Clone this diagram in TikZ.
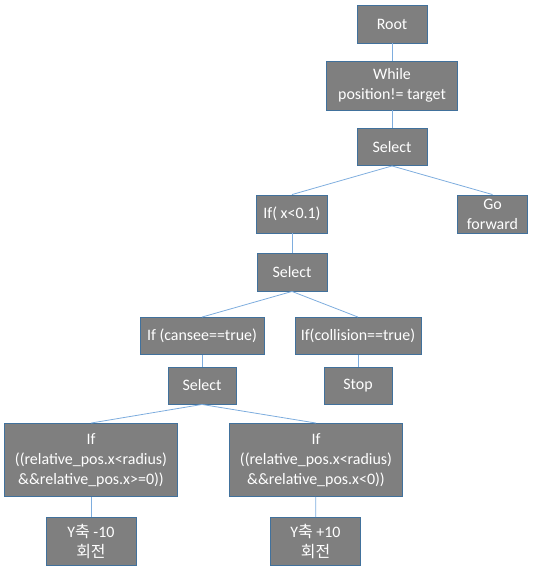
\documentclass[tikz,border=0pt]{standalone}
\usepackage{fontspec}
\setmainfont{Carlito}
\newfontfamily\kr{Noto Sans CJK KR}
\usepackage{tikz}
\usetikzlibrary{arrows,shapes}
\definecolor{boxfill}{HTML}{7F7F7F}
\definecolor{boxline}{HTML}{41719C}
\definecolor{edgeline}{HTML}{7EADDE}
\newcommand{\ynote}[1]{Y{\kr 축} #1\\{\kr 회전}}

\begin{document}
\begin{tikzpicture}[>=latex]
      \tikzstyle{every node}=[font=\fontsize{16}{20}\selectfont]
      \tikzstyle{bt}=[draw=boxline, line width=.9bp, fill=boxfill, text=white, align=center, inner sep=0pt]
      \tikzstyle{lk}=[draw=edgeline, line width=.8bp]
      \useasboundingbox (0bp,0bp) rectangle (541bp,-580bp);
      %%
  \node (root) at (392bp,-24bp) [bt, minimum width=70bp, minimum height=38bp] {Root};
  \node (loop) at (392bp,-85.5bp) [bt, minimum width=131bp, minimum height=49bp] {While\\position!= target};
  \node (sel1) at (392bp,-147bp) [bt, minimum width=70bp, minimum height=37bp] {Select};
  \node (ifx) at (292bp,-214bp) [bt, minimum width=71bp, minimum height=38bp] {If( x<0.1)};
  \node (fwd) at (492.5bp,-214bp) [bt, minimum width=70bp, minimum height=38bp] {Go\\forward};
  \node (sel2) at (292bp,-272bp) [bt, minimum width=70bp, minimum height=38bp] {Select};
  \node (see) at (202bp,-336bp) [bt, minimum width=124bp, minimum height=37bp] {If (cansee==true)};
  \node (col) at (358bp,-336bp) [bt, minimum width=126bp, minimum height=37bp] {If(collision==true)};
  \node (sel3) at (202bp,-385.5bp) [bt, minimum width=68bp, minimum height=37bp] {Select};
  \node (stop) at (358bp,-385.5bp) [bt, minimum width=68bp, minimum height=37bp] {Stop};
  \node (ifl) at (91bp,-460bp) [bt, minimum width=173bp, minimum height=73bp] {If\\((relative\_pos.x<radius)\\\&\&relative\_pos.x>=0))};
  \node (ifr) at (316bp,-460bp) [bt, minimum width=173bp, minimum height=73bp] {If\\((relative\_pos.x<radius)\\\&\&relative\_pos.x<0))};
  \node (rotl) at (91bp,-541.5bp) [bt, minimum width=90bp, minimum height=48bp] {\ynote{-10}};
  \node (rotr) at (315.5bp,-541.5bp) [bt, minimum width=90bp, minimum height=48bp] {\ynote{+10}};
  \draw [lk] (root) -- (loop);
  \draw [lk] (loop) -- (sel1);
  \draw [lk] (sel1.south) -- (ifx.north);
  \draw [lk] (sel1.south) -- (fwd.north);
  \draw [lk] (ifx) -- (sel2);
  \draw [lk] (sel2.south) -- (see.north);
  \draw [lk] (sel2.south) -- (col.north);
  \draw [lk] (see) -- (sel3);
  \draw [lk] (col) -- (stop);
  \draw [lk] (sel3.south) -- (ifl.north);
  \draw [lk] (sel3.south) -- (ifr.north);
  \draw [lk] (ifl) -- (rotl);
  \draw [lk] (ifr) -- (rotr);
%
\end{tikzpicture}
\end{document}
